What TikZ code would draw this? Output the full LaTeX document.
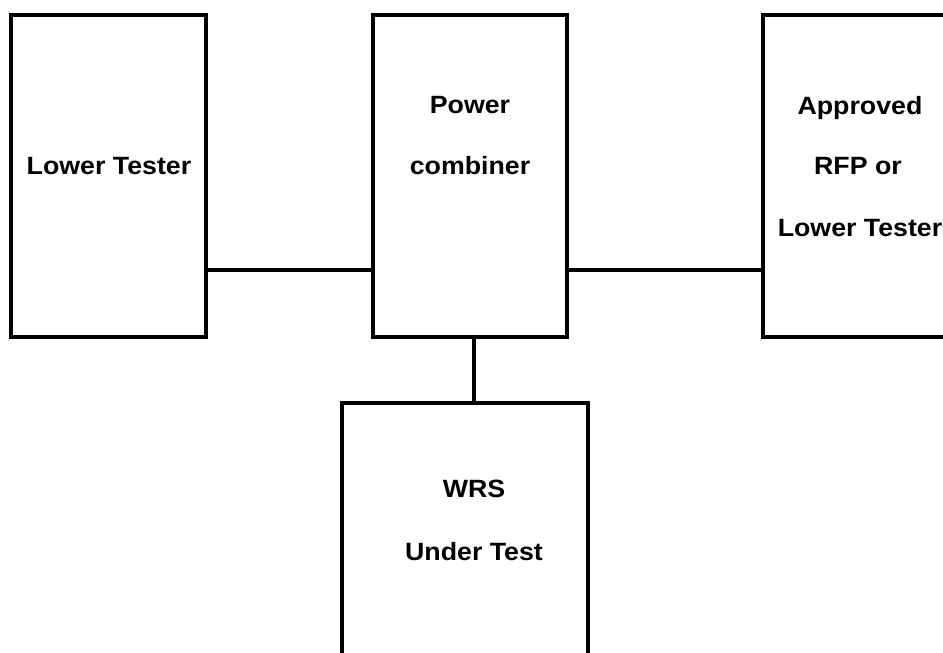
\documentclass[tikz,border=0pt]{standalone}
\usepackage{fontspec}
\setmainfont{Liberation Sans}
\newcommand{\wtxt}[1]{\scalebox{1.07}[1]{#1}}
\begin{document}
\begin{tikzpicture}[x=1pt,y=-1pt,
  blk/.style={draw=black, line width=4pt, rectangle, inner sep=0pt, outer sep=0pt, fill=none},
  lbl/.style={anchor=base, inner sep=0pt, font=\fontsize{25}{29}\selectfont\bfseries},
  wire/.style={draw=black, line width=4pt}]
\useasboundingbox (0,0) rectangle (943,653);
\clip (0,0) rectangle (943,653);
\fill[white] (0,0) rectangle (943,653);
% boxes
\node[blk, minimum width=195pt, minimum height=322pt] (lt) at (108.5,176) {};
\node[blk, minimum width=194pt, minimum height=322pt] (pc) at (470,176) {};
\node[blk, minimum width=194pt, minimum height=322pt] (rfp) at (860,176) {};
\node[blk, minimum width=246pt, minimum height=300pt] (wrs) at (465,553) {};
% texts
\node[lbl] (t1) at (109,174) {\wtxt{Lower Tester}};
\node[lbl] (t2) at (470,113) {\wtxt{Power}};
\node[lbl] (t3) at (470,174) {\wtxt{combiner}};
\node[lbl] (t4) at (860,114) {\wtxt{Approved}};
\node[lbl] (t5) at (858,174) {\wtxt{RFP or}};
\node[lbl] (t6) at (860,236) {\wtxt{Lower Tester}};
\node[lbl] (t7) at (474,497) {\wtxt{WRS}};
\node[lbl] (t8) at (474,560) {\wtxt{Under Test}};
% connectors
\coordinate (ya) at (0,270);
\coordinate (xa) at (474,0);
\draw[wire] (lt.east |- ya) -- (pc.west |- ya);
\draw[wire] (pc.east |- ya) -- (rfp.west |- ya);
\draw[wire] (pc.south -| xa) -- (wrs.north -| xa);
\end{tikzpicture}
\end{document}
